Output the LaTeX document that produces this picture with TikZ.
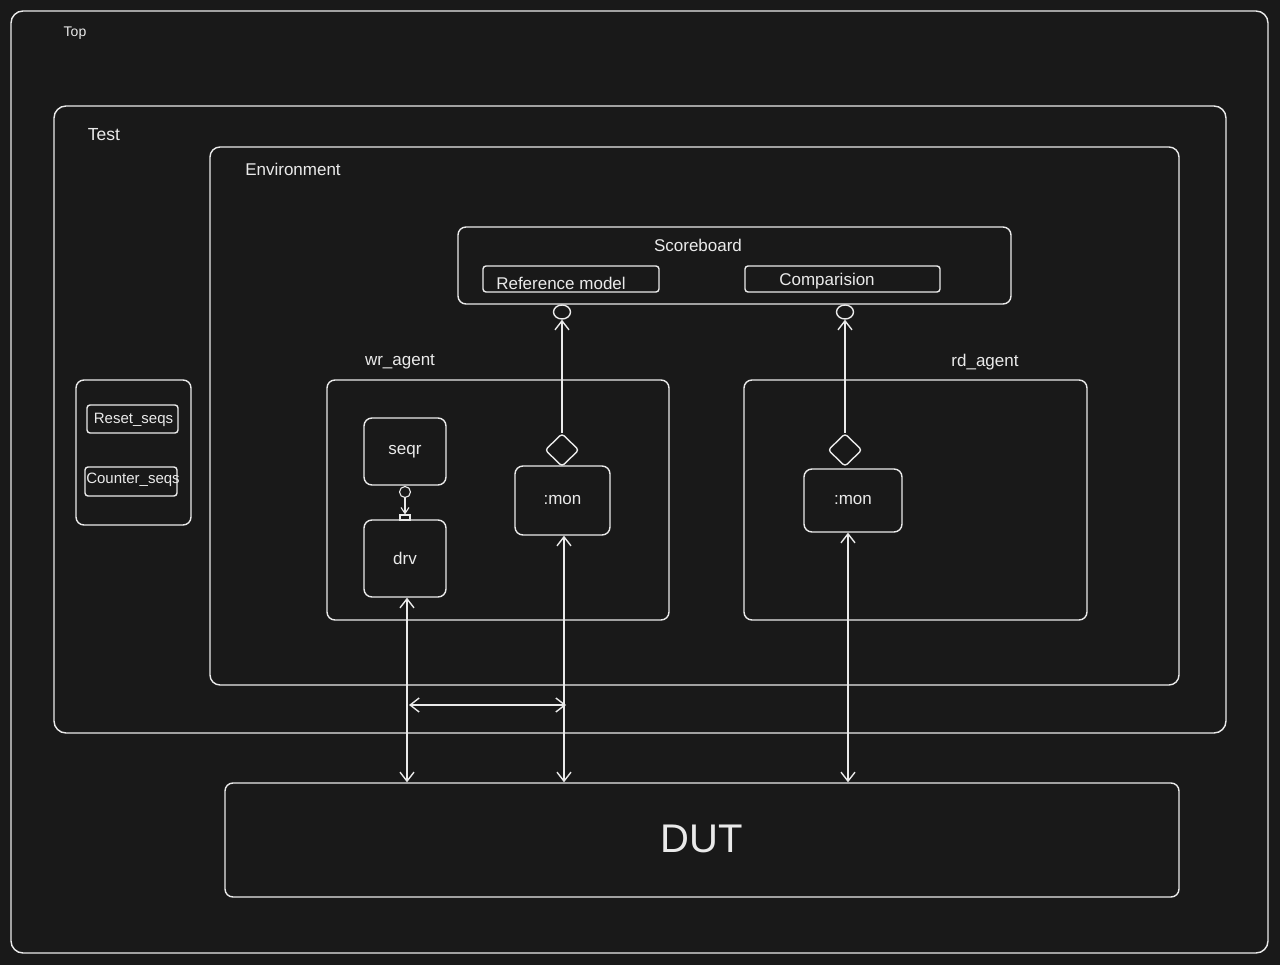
\documentclass[tikz,border=0pt]{standalone}
\usepackage{fontspec}
\setmainfont{Liberation Sans}
\usetikzlibrary{arrows.meta,shapes.geometric}
\definecolor{bg}{HTML}{191919}
\definecolor{ink}{HTML}{EAEAEA}
\tikzset{
  box/.style={draw=ink, line width=1.4pt, rounded corners=8pt, inner sep=0pt},
  lbl/.style={text=ink, inner sep=0pt, font=\fontsize{17}{20}\selectfont},
  conn/.style={draw=ink, line width=1.4pt},
}
\begin{document}
\begin{tikzpicture}[x=1pt,y=-1pt]
\fill[bg] (0,0) rectangle (1280,965);
\useasboundingbox (0,0) rectangle (1280,965);

% containers
\node[box, rounded corners=12pt, minimum width=1257, minimum height=942] (top) at (639.5,482) {};
\node[lbl, font=\fontsize{14}{16}\selectfont] (toplbl) at (75,33) {Top};
\node[box, rounded corners=12pt, minimum width=1172, minimum height=627] (test) at (640,419.5) {};
\node[lbl, font=\fontsize{17.5}{20}\selectfont] (testlbl) at (104,135) {Test};
\node[box, rounded corners=10pt, minimum width=969, minimum height=538] (env) at (694.5,416) {};
\node[lbl, font=\fontsize{17}{20}\selectfont] (envlbl) at (293,169) {Environment};

% scoreboard
\node[box, minimum width=553, minimum height=77] (sb) at (734.5,265.5) {};
\node[lbl] (sblbl) at (698,245) {Scoreboard};
\node[box, rounded corners=3pt, minimum width=176, minimum height=26] (ref) at (571,279) {};
\node[lbl] (reflbl) at (561,283) {Reference model};
\node[box, rounded corners=3pt, minimum width=195, minimum height=26] (cmp) at (842.5,279) {};
\node[lbl] (cmplbl) at (827,281) {Comparision};

% sequences
\node[box, minimum width=115, minimum height=145] (seqs) at (133.5,452.5) {};
\node[box, rounded corners=3pt, minimum width=91, minimum height=28] (reset) at (132.5,419) {};
\node[lbl, font=\fontsize{15}{18}\selectfont] (resetlbl) at (133.5,420) {Reset\_seqs};
\node[box, rounded corners=3pt, minimum width=92, minimum height=29] (counter) at (131,481.5) {};
\node[lbl, font=\fontsize{15}{18}\selectfont] (counterlbl) at (133,480) {Counter\_seqs};

% agents
\node[box, minimum width=342, minimum height=240] (wr) at (498,500) {};
\node[lbl] (wrlbl) at (400,362) {wr\_agent};
\node[box, minimum width=343, minimum height=240] (rd) at (915.5,500) {};
\node[lbl] (rdlbl) at (985,362) {rd\_agent};

\node[box, lbl, draw=ink, minimum width=82, minimum height=67] (seqr) at (405,451.5) {seqr};
\node[box, lbl, draw=ink, minimum width=82, minimum height=77] (drv) at (405,558.5) {drv};
\node[box, lbl, draw=ink, minimum width=95, minimum height=69] (mon1) at (562.5,500.5) {:mon};
\node[box, lbl, draw=ink, minimum width=98, minimum height=63] (mon2) at (853,500.5) {:mon};

% ports
\node[draw=ink, line width=1.4pt, ellipse, minimum width=17, minimum height=14, inner sep=0pt] (c1) at (562,312) {};
\node[draw=ink, line width=1.4pt, ellipse, minimum width=17, minimum height=14, inner sep=0pt] (c2) at (845,312) {};
\node[draw=ink, line width=1.4pt, diamond, rounded corners=3pt, minimum width=34, minimum height=33, inner sep=0pt] (d1) at (562,450) {};
\node[draw=ink, line width=1.4pt, diamond, rounded corners=3pt, minimum width=34, minimum height=33, inner sep=0pt] (d2) at (845,450) {};
\node[draw=ink, line width=1.1pt, circle, minimum size=11, inner sep=0pt] (sc) at (405,492) {};
\node[draw=ink, line width=1.1pt, minimum width=10, minimum height=5, inner sep=0pt] (sp) at (405,517.5) {};

% DUT
\node[box, minimum width=954, minimum height=114] (dut) at (702,840) {};
\node[lbl, font=\fontsize{40}{46}\selectfont] (dutlbl) at (702,839) {DUT};

% connectors
\draw[conn, -{Straight Barb[length=9pt,width=14pt,line width=1.4pt]}] (d1.north) -- (c1.south);
\draw[conn, -{Straight Barb[length=9pt,width=14pt,line width=1.4pt]}] (d2.north) -- (c2.south);
\draw[draw=ink, line width=1.1pt, -{Straight Barb[length=6pt,width=8pt,line width=1.1pt]}] (sc.south) -- (sp.north);

\draw[conn, {Straight Barb[length=9pt,width=14pt,line width=1.4pt]}-{Straight Barb[length=9pt,width=14pt,line width=1.4pt]}]
  ([xshift=2]drv.south) -- ([xshift=2]drv.south |- dut.north);
\draw[conn, {Straight Barb[length=9pt,width=14pt,line width=1.4pt]}-{Straight Barb[length=9pt,width=14pt,line width=1.4pt]}]
  ([xshift=1.5]mon1.south) -- ([xshift=1.5]mon1.south |- dut.north);
\draw[conn, {Straight Barb[length=9pt,width=14pt,line width=1.4pt]}-{Straight Barb[length=9pt,width=14pt,line width=1.4pt]}]
  ([xshift=-5]mon2.south) -- ([xshift=-5]mon2.south |- dut.north);

\coordinate (h1) at (409,705);
\coordinate (h2) at (566,705);
\draw[conn, {Straight Barb[length=9pt,width=14pt,line width=1.4pt]}-{Straight Barb[length=9pt,width=14pt,line width=1.4pt]}] (h1) -- (h2);
\end{tikzpicture}
\end{document}
